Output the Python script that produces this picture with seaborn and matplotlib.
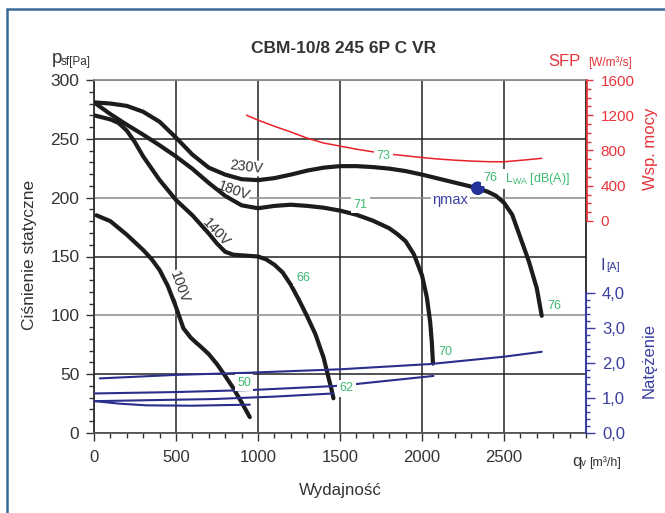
import numpy as np
import pandas as pd
import seaborn as sns
import matplotlib
matplotlib.use("Agg")
import matplotlib.pyplot as plt
from matplotlib.lines import Line2D
from matplotlib.ticker import MultipleLocator, FixedLocator, FuncFormatter

# ---------------- data ----------------
q230 = [0, 100, 200, 300, 400, 500, 600, 700, 800, 900, 1000, 1100, 1200, 1300, 1400, 1500, 1600,
        1700, 1800, 1900, 2000, 2100, 2200, 2300, 2340, 2400, 2450, 2500, 2550, 2600, 2650, 2700, 2730]
p230 = [281, 280, 278, 273, 264.5, 251, 236.6, 225.5, 219.6, 215.7, 214.9, 216.6, 219.6, 223, 225.5,
        226.8, 226.8, 226, 224.7, 222.6, 219.6, 216.2, 212.8, 209.4, 207.7, 205.1, 201.7, 195.7,
        185.5, 166, 146.5, 123, 99.6]
q180 = [0, 100, 200, 300, 400, 500, 600, 700, 800, 900, 1000, 1100, 1200, 1300, 1400, 1500, 1600,
        1700, 1800, 1850, 1900, 1950, 2000, 2030, 2050, 2060, 2067]
p180 = [281, 271, 262, 253.5, 244.5, 235, 224.5, 212.5, 201.5, 193.5, 191, 193, 194, 193, 191.5,
        189, 185.5, 180.5, 174, 169, 163, 152, 134, 115, 94, 77, 59]
q140 = [0, 100, 150, 200, 250, 300, 400, 500, 600, 700, 750, 800, 850, 900, 1000, 1050, 1100,
        1150, 1200, 1250, 1300, 1350, 1400, 1430, 1450, 1460]
p140 = [270, 266.5, 263.5, 257, 247, 235, 215, 198, 185, 169.5, 161, 154, 151.5, 151, 150, 147.5,
        143, 136.5, 126, 113, 99, 84, 64, 47, 36, 29.5]
q100 = [15, 100, 200, 300, 350, 400, 450, 500, 545, 590, 625, 650, 700, 750, 800, 850, 900, 950]
p100 = [185, 180, 168.5, 155.5, 148, 138.5, 125, 107, 89, 81, 76.5, 73.5, 67, 58.5, 48.5, 38, 26, 13.5]

q_sfp = [930, 1000, 1100, 1200, 1300, 1400, 1500, 1600, 1700, 1800, 1900, 2000, 2100, 2200, 2300,
         2400, 2500, 2600, 2730]
sfp = [1200, 1145, 1075, 1010, 940, 885, 850, 815, 785, 760, 740, 720, 703, 690, 680, 673, 672,
       688, 711]

qc230 = [35, 500, 930, 1500, 2050, 2500, 2730]
ic230 = [1.56, 1.66, 1.72, 1.82, 1.97, 2.18, 2.32]
qc180 = [5, 500, 970, 1460, 1600, 2070]
ic180 = [1.13, 1.17, 1.23, 1.34, 1.40, 1.63]
qc140 = [5, 730, 1100, 1460]
ic140 = [0.91, 0.97, 1.04, 1.13]
qc100 = [5, 150, 320, 600, 950]
ic100 = [0.91, 0.84, 0.79, 0.78, 0.81]

eta_q, eta_p = 2340, 208

voltages = ["230V", "180V", "140V", "100V"]
volt_label_pos = [(931, 226), (850, 206), (744, 170.5), (520, 124)]
volt_label_rot = [-7, -20, -47, -70]

lwa_labels = ["73", "71", "66", "50", "62", "70", "76", "76"]
lwa_pos = [(1764, 235), (1622, 194), (1274, 132), (915, 42.5), (1541, 38), (2140, 69), (2415, 217), (2805, 108)]

x_ticks = [0, 500, 1000, 1500, 2000, 2500]
y_ticks = [0, 50, 100, 150, 200, 250, 300]
sfp_ticks = [0, 400, 800, 1200, 1600]
i_ticks = [0, 1, 2, 3, 4]

# ---------------- style ----------------
sns.set_theme(style="white")
plt.rcParams["font.family"] = ["Liberation Sans", "DejaVu Sans"]
plt.rcParams["mathtext.fontset"] = "custom"
plt.rcParams["mathtext.rm"] = "Liberation Sans"
plt.rcParams["mathtext.it"] = "Liberation Sans"

W, H = 665, 513
TXT = "#333333"
RED = "#e8343c"
BLUE = "#3a3f9f"
NAVY = "#2a2e8c"
GREEN = "#3dbb72"

fig = plt.figure(figsize=(W / 100, H / 100), dpi=100)
ax = fig.add_axes([94 / W, 1 - 433 / H, (586 - 94) / W, (433 - 80) / H])

def ft(x, y, s, **kw):
    return fig.text(x / W, 1 - y / H, s, **kw)

# ---------------- main axis ----------------
ax.set_xlim(0, 3000)
ax.set_ylim(0, 300)
ax.set_axisbelow(True)
ax.xaxis.set_major_locator(FixedLocator(x_ticks))
ax.xaxis.set_minor_locator(MultipleLocator(100))
ax.yaxis.set_major_locator(FixedLocator(y_ticks))
ax.yaxis.set_minor_locator(MultipleLocator(10))
ax.grid(True, which="major", lw=1.1, color="#222222")
for val, gl in zip(y_ticks, ax.get_ygridlines()):
    if val in (100, 200, 300):
        gl.set_color("#8a8a8a")
ax.tick_params(axis="both", which="major", direction="out", length=5.5, width=1.0,
               color="#333333", labelcolor=TXT, pad=5, left=True, bottom=True)
ax.tick_params(axis="both", which="minor", direction="out", length=3.5, width=1.0,
               color="#333333", left=True, bottom=True)
ax.tick_params(axis="y", labelsize=12.5)
ax.tick_params(axis="x", labelsize=12, pad=7)
ax.spines["left"].set_color("#333333")
ax.spines["bottom"].set_color("#555555")
ax.spines["top"].set_color("#8a8a8a")
ax.spines["right"].set_color("#222222")
for s in ax.spines.values():
    s.set_linewidth(1.3)
ax.set_xlabel("")
ax.set_ylabel("")

curves = [(q230, p230), (q180, p180), (q140, p140), (q100, p100)]
for (qq, pp) in curves:
    sns.lineplot(x=qq, y=pp, ax=ax, sort=False, estimator=None, color="#1c1c1c",
                 lw=3.0, solid_capstyle="round", solid_joinstyle="round", zorder=3)

sns.scatterplot(x=[eta_q], y=[eta_p], ax=ax, s=95, color="#25309a", edgecolor="none", zorder=5)

for lab, (qx, py), rot in zip(voltages, volt_label_pos, volt_label_rot):
    ax.text(qx, py, lab, rotation=rot, rotation_mode="anchor", ha="center", va="center",
            fontsize=10.3, color=TXT, zorder=1.5,
            bbox=dict(boxstyle="square,pad=0.05", fc="white", ec="none"))

# ---------------- SFP axis ----------------
ax2 = ax.twinx()
ax2.set_ylim(-2406, 1600)
for k in ("left", "top", "bottom"):
    ax2.spines[k].set_visible(False)
ax2.spines["right"].set_position(("outward", 1))
ax2.spines["right"].set_bounds(0, 1600)
ax2.spines["right"].set_color(RED)
ax2.spines["right"].set_linewidth(1.3)
ax2.yaxis.set_major_locator(FixedLocator(sfp_ticks))
ax2.yaxis.set_minor_locator(FixedLocator(list(range(0, 1601, 100))))
ax2.tick_params(axis="y", which="major", direction="out", length=4.5, width=1.0,
                color=RED, labelcolor=RED, labelsize=11, pad=5, right=True)
ax2.tick_params(axis="y", which="minor", direction="out", length=3, width=1.0, color=RED, right=True)
ax2.grid(False)
ax2.set_ylabel("")
sns.lineplot(x=q_sfp, y=sfp, ax=ax2, sort=False, estimator=None, color="#e8202a", lw=1.1)

# ---------------- current axis ----------------
ax3 = ax.twinx()
ax3.set_ylim(0, 353 / 35)
for k in ("left", "top", "bottom"):
    ax3.spines[k].set_visible(False)
ax3.spines["right"].set_bounds(0, 4)
ax3.spines["right"].set_color(BLUE)
ax3.spines["right"].set_linewidth(1.5)
ax3.yaxis.set_major_locator(FixedLocator(i_ticks))
ax3.yaxis.set_minor_locator(FixedLocator([i * 0.2 for i in range(21)]))
ax3.yaxis.set_major_formatter(FuncFormatter(lambda v, _: f"{v:.1f}".replace(".", ",")))
ax3.tick_params(axis="y", which="major", direction="out", length=6.5, width=1.0,
                color=BLUE, labelcolor=BLUE, labelsize=12, pad=5, right=True)
ax3.tick_params(axis="y", which="minor", direction="out", length=3, width=1.0, color=BLUE, right=True)
ax3.grid(False)
ax3.set_ylabel("")
for qq, ii in [(qc230, ic230), (qc180, ic180), (qc140, ic140), (qc100, ic100)]:
    sns.lineplot(x=qq, y=ii, ax=ax3, sort=False, estimator=None, color=NAVY, lw=1.5)

# ---------------- annotations ----------------
for lab, (qx, py) in zip(lwa_labels, lwa_pos):
    ax3.text(qx, py, lab, transform=ax.transData, ha="center", va="center", fontsize=9,
             color=GREEN, zorder=6,
             bbox=dict(boxstyle="square,pad=0.2", fc="white", ec="none"))
ax.text(2506, 216, r"L$_{\mathrm{WA}}$ [dB(A)]", ha="left", va="center", fontsize=9,
        color=GREEN, zorder=1.5, bbox=dict(boxstyle="square,pad=0.15", fc="white", ec="none"))
ax.text(2172, 198, "ηmax", ha="center", va="center", fontsize=10.5, color=BLUE,
        zorder=1.5, bbox=dict(boxstyle="square,pad=0.1", fc="white", ec="none"))

# ---------------- figure texts ----------------
ft(344, 53, "CBM-10/8 245 6P C VR", ha="center", va="baseline", fontsize=12.5,
   fontweight="bold", color=TXT)
ft(52, 63, "p", ha="left", va="baseline", fontsize=13.5, color=TXT)
ft(61, 65, "sf[Pa]", ha="left", va="baseline", fontsize=8.5, color=TXT)
ft(30, 255, "Ciśnienie statyczne", rotation=90, ha="center", va="center", fontsize=12.5, color=TXT)
ft(340, 490, "Wydajność", ha="center", va="center", fontsize=12.2, color=TXT)
ft(572, 466, "q", ha="left", va="baseline", fontsize=12, color=TXT)
ft(581, 466, "v", ha="left", va="baseline", fontsize=7, color=TXT)
ft(589, 466, "[m³/h]", ha="left", va="baseline", fontsize=9, color=TXT)
ft(548, 66, "SFP", ha="left", va="baseline", fontsize=12, color=RED)
ft(588, 66, "[W/m³/s]", ha="left", va="baseline", fontsize=8.5, color=RED)
ft(650, 149, "Wsp. mocy", rotation=90, ha="center", va="center", fontsize=12, color=RED)
ft(601, 270, "I", ha="left", va="baseline", fontsize=12, color=BLUE)
ft(606, 270, "[A]", ha="left", va="baseline", fontsize=8, color=BLUE)
ft(649, 360, "Natężenie", rotation=90, ha="center", va="center", fontsize=12, color=BLUE)

# border lines of the card
fig.add_artist(Line2D([7 / W, 1.0], [1 - 9 / H, 1 - 9 / H], transform=fig.transFigure,
                      color="#3a6a9a", lw=1.8))
fig.add_artist(Line2D([7 / W, 7 / W], [1 - 9 / H, 0.0], transform=fig.transFigure,
                      color="#3a6a9a", lw=1.8))

fig.savefig("out.png", dpi=100, facecolor="white")
